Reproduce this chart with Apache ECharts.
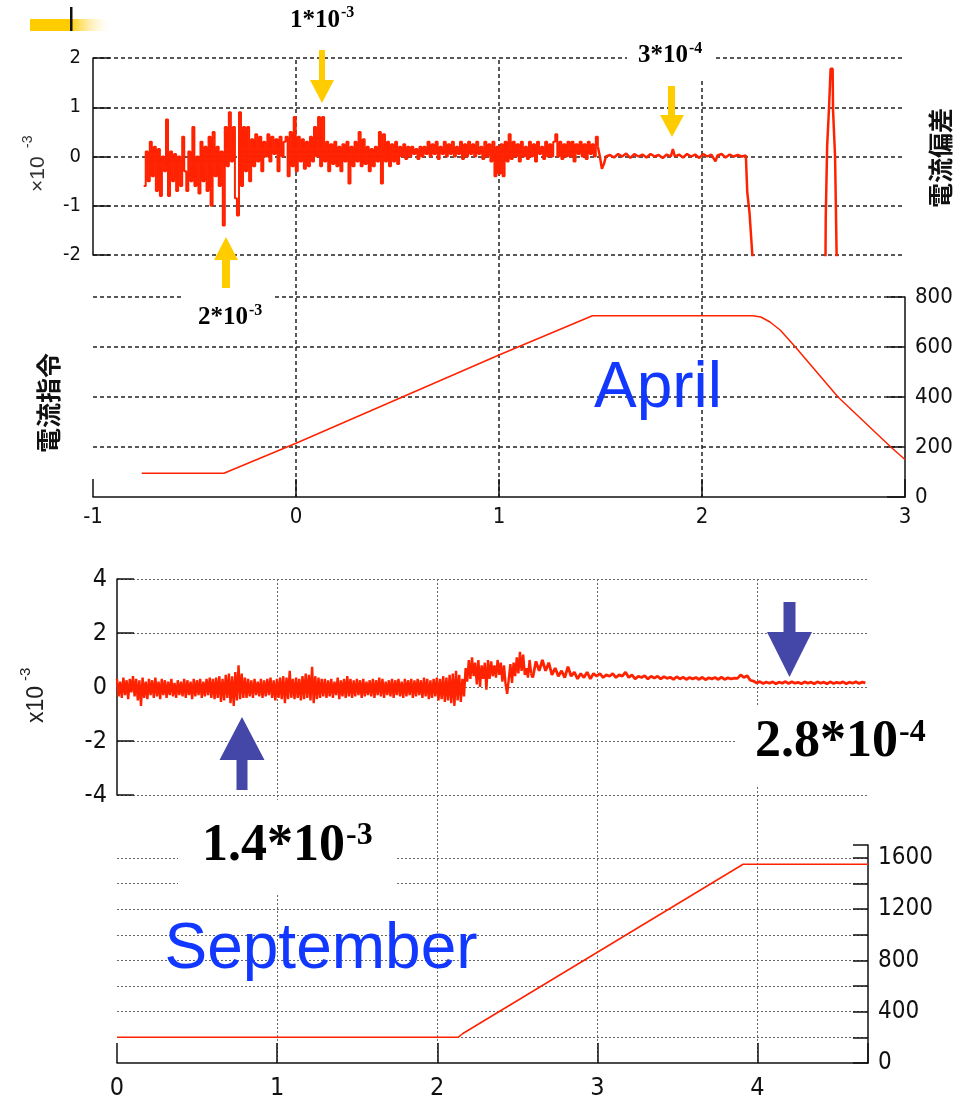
<!DOCTYPE html>
<html><head><meta charset="utf-8">
<script src="https://cdn.jsdelivr.net/npm/echarts@6/dist/echarts.min.js"></script>
<style>html,body{margin:0;padding:0;background:#fff}#c{width:954px;height:1100px}</style>
</head><body><div id="c"></div>
<script>
// ---------------- DATA ----------------
// April: current deviation (x10^-3), sampled every 0.01 from -0.75
const aprDevStart = -0.75, aprDevStep = 0.01;
const aprDevNoisy = [
 -0.6, 0.1, -0.5, 0.3, -0.4, 0.2, -0.7, 0.15, -0.8, 0.0,
 -0.3, 0.75, -0.8, 0.1, -0.5, 0.05, -0.7, 0.0, -0.6, 0.4,
 -0.3, -0.7, 0.1, -0.5, 0.6, -0.6, 0.0, -0.75, 0.3, -0.5,
 0.2, -0.7, 0.4, -1.0, 0.5, -0.4, 0.2, -0.6, 0.1, -1.4,
 0.6, -0.2, 0.9, -0.1, 0.6, -0.85, -1.2, 0.9, -0.6, 0.6,
 -0.3, 0.6, -0.5, 0.35, -0.2, 0.45, -0.1, 0.4, -0.3, 0.3,
 0.0, 0.45, -0.1, 0.4, 0.05, 0.35, -0.3, 0.4, 0.0, 0.3,
 0.4, -0.4, 0.5, -0.2, 0.8, -0.3, 0.4, -0.1, 0.35, -0.25,
 0.3, -0.2, 0.4, -0.1, 0.6, 0.0, 0.8, -0.2, 0.8, -0.1,
 0.3, -0.3, 0.25, -0.15, 0.3, -0.2, 0.2, -0.3, 0.25, -0.1,
 0.3, -0.55, 0.2, -0.2, 0.3, -0.1, 0.5, -0.2, 0.35, -0.15,
 0.2, -0.3, 0.15, -0.2, 0.2, -0.1, 0.5, -0.55, 0.45, -0.1,
 0.3, -0.2, 0.25, -0.1, 0.3, -0.15, 0.2, 0.0, 0.25, -0.05,
 0.2, 0.0, 0.2, 0.05, 0.15, -0.05, 0.2, 0.0, 0.2, 0.05,
 0.3, 0.0, 0.25, 0.05, 0.3, -0.05, 0.2, 0.05, 0.3, 0.0,
 0.25, 0.05, 0.3, 0.0, 0.2, 0.05, 0.3, -0.05, 0.25, 0.0,
 0.3, 0.05, 0.25, 0.0, 0.3, 0.05, 0.2, -0.05, 0.3, 0.0,
 0.25, -0.1, 0.3, -0.4, 0.2, -0.35, 0.25, -0.4, 0.3, -0.1,
 0.45, -0.05, 0.3, 0.0, 0.25, -0.1, 0.3, 0.0, 0.2, -0.05,
 0.3, 0.0, 0.25, -0.1, 0.3, 0.05, 0.2, -0.05, 0.3, 0.0,
 0.25, 0.0, 0.3, 0.45, 0.0, 0.3, -0.05, 0.25, 0.0, 0.3,
 0.0, 0.3, -0.1, 0.25, 0.05, 0.3, 0.0, 0.25, -0.05, 0.3,
 0.05, 0.25, 0.0, 0.4, 0.2
];
// April: quiet part, drop-out and spike (x, value x10^-3); values below -2 leave the plot
const aprDevTail = [
 [1.49, 0.2], [1.50, 0.0], [1.51, -0.25], [1.52, -0.15], [1.53, 0.0], [1.55, 0.03], [1.57, -0.02], [1.59, 0.05],
 [1.61, 0.0], [1.63, 0.06], [1.65, -0.03], [1.67, 0.05], [1.69, 0.0], [1.71, 0.04], [1.73, -0.02],
 [1.75, 0.05], [1.77, 0.0], [1.79, 0.03], [1.81, -0.03], [1.83, 0.04], [1.85, 0.0], [1.86, 0.15],
 [1.87, 0.0], [1.89, 0.04], [1.91, -0.02], [1.93, 0.05], [1.95, 0.0], [1.97, 0.04], [1.99, -0.03],
 [2.01, 0.05], [2.03, 0.0], [2.05, 0.04], [2.07, -0.1], [2.08, 0.02], [2.10, 0.05], [2.12, -0.02],
 [2.14, 0.04], [2.16, 0.0], [2.18, 0.03], [2.20, 0.0], [2.22, 0.02],
 [2.227, -0.73], [2.236, -0.73], [2.238, -1.14], [2.244, -1.14], [2.252, -2.0], [2.258, -2.0],
 [2.26, -2.6], [2.612, -2.6], [2.614, -1.24], [2.619, -1.24], [2.621, 0.22], [2.628, 0.22],
 [2.63, 0.97], [2.636, 0.97], [2.638, 1.78], [2.648, 1.78], [2.65, 0.95], [2.657, 0.95],
 [2.66, 0.0], [2.668, 0.0], [2.67, -2.6], [2.70, -2.6]
];
// April: current command
const aprCmd = [[-0.76, 95], [-0.355, 95], [0, 215], [1, 568], [1.46, 725], [2.25, 725],
 [2.29, 720], [2.335, 700], [2.385, 668], [2.46, 600], [2.67, 400], [2.93, 200], [3.0, 150]];

// September: current deviation (x10^-3), every 0.01 from 0
const sepDevStart = 0, sepDevStep = 0.01;
const sepDevNoisy = [
 0.3, -0.35, 0.2, -0.4, 0.35, -0.3, 0.25, -0.45, 0.3, -0.2,
 0.4, -0.35, 0.3, -0.5, 0.25, -0.7, 0.35, -0.4, 0.2, -0.45,
 0.3, -0.3, 0.25, -0.4, 0.35, -0.35, 0.2, -0.45, 0.3, -0.3,
 0.25, -0.4, 0.2, -0.3, 0.3, -0.35, 0.15, -0.4, 0.25, -0.3,
 0.2, -0.35, 0.3, -0.4, 0.25, -0.3, 0.2, -0.45, 0.3, -0.35,
 0.25, -0.3, 0.3, -0.4, 0.2, -0.35, 0.3, -0.3, 0.35, -0.4,
 0.3, -0.45, 0.35, -0.4, 0.4, -0.55, 0.3, -0.5, 0.45, -0.4,
 0.5, -0.6, 0.4, -0.7, 0.55, -0.5, 0.8, -0.45, 0.5, -0.4,
 0.35, -0.4, 0.3, -0.35, 0.25, -0.4, 0.3, -0.3, 0.2, -0.35,
 0.3, -0.4, 0.25, -0.35, 0.3, -0.3, 0.35, -0.4, 0.25, -0.5,
 0.3, -0.4, 0.35, -0.45, 0.4, -0.6, 0.35, -0.45, 0.6, -0.4,
 0.3, -0.45, 0.35, -0.4, 0.3, -0.5, 0.4, -0.45, 0.5, -0.4,
 0.45, -0.5, 0.75, -0.6, 0.4, -0.45, 0.35, -0.4, 0.3, -0.35,
 0.3, -0.4, 0.25, -0.35, 0.3, -0.4, 0.2, -0.3, 0.35, -0.45,
 0.25, -0.35, 0.3, -0.4, 0.4, -0.35, 0.3, -0.4, 0.25, -0.35,
 0.3, -0.3, 0.25, -0.4, 0.3, -0.35, 0.2, -0.3, 0.25, -0.35,
 0.3, -0.4, 0.25, -0.3, 0.35, -0.35, 0.3, -0.4, 0.2, -0.3,
 0.25, -0.35, 0.3, -0.4, 0.25, -0.3, 0.3, -0.35, 0.2, -0.4,
 0.3, -0.35, 0.25, -0.3, 0.3, -0.4, 0.25, -0.35, 0.3, -0.3,
 0.25, -0.4, 0.35, -0.35, 0.3, -0.45, 0.25, -0.4, 0.3, -0.35,
 0.35, -0.5, 0.3, -0.45, 0.4, -0.55, 0.35, -0.5, 0.45, -0.6,
 0.5, -0.7, 0.6, -0.5, 0.45, -0.55, 0.3, -0.35, 0.7, 0.2,
 1.0, 0.3, 1.1, 0.4, 0.9, 0.1, 1.0, 0.0, 0.8, 0.3,
 0.9, -0.1, 1.0, 0.3, 0.95, 0.4, 0.8, 0.35, 1.0, 0.45,
 0.9, 0.2, 0.8, 0.1, -0.25, 0.3, 0.85, 0.15, 0.9, 0.4,
 1.1, 0.5, 1.3, 0.6, 1.2, 0.45, 0.7, 0.35, 1.0, 0.5
];
// September: settling part, every 0.02 from 2.6
const sepDevStart2 = 2.6, sepDevStep2 = 0.02;
const sepDevSettled = [
 0.35, 0.95, 0.6, 1.0, 0.6, 0.9, 0.45, 0.7, 0.4, 0.6,
 0.35, 0.75, 0.4, 0.55, 0.3, 0.5, 0.35, 0.55, 0.3, 0.5,
 0.4, 0.5, 0.35, 0.45, 0.4, 0.5, 0.35, 0.45, 0.4, 0.55,
 0.35, 0.45, 0.3, 0.4, 0.35, 0.42, 0.3, 0.4, 0.33, 0.4,
 0.3, 0.38, 0.32, 0.36, 0.28, 0.38, 0.3, 0.36, 0.28, 0.35,
 0.3, 0.35, 0.28, 0.36, 0.27, 0.34, 0.3, 0.35, 0.28, 0.36,
 0.28, 0.34, 0.3, 0.33, 0.32, 0.45, 0.35, 0.42, 0.25, 0.22,
 0.15, 0.2, 0.13, 0.18, 0.14, 0.19, 0.12, 0.18, 0.14, 0.2,
 0.13, 0.19, 0.14, 0.17, 0.12, 0.19, 0.14, 0.18, 0.12, 0.19,
 0.14, 0.18, 0.12, 0.19, 0.13, 0.17, 0.14, 0.19, 0.12, 0.18,
 0.14, 0.19, 0.13, 0.18, 0.15
];
// September: current command
const sepCmd = [[0, 200], [2.13, 200], [2.16, 230], [3.91, 1550], [4.69, 1550]];

// axis ranges / ticks
const aprXRange = [-1, 3], aprXTick = 1;
const aprDevYRange = [-2, 2], aprDevYTick = 1;
const aprCmdYRange = [0, 800], aprCmdYTick = 200;
const sepXRange = [0, 4.69], sepXTick = 1;
const sepDevYRange = [-4, 4], sepDevYTick = 2;
const sepCmdYRange = [0, 1700], sepCmdYTick = 200, sepCmdLabelStep = 400, sepCmdLabelMax = 1600;

// ---------------- BUILD ----------------
const r3 = v => Math.round(v * 1000) / 1000;
const aprDevA = aprDevNoisy.map((v, i) => [r3(aprDevStart + i * aprDevStep), v]);
const sepDevA = sepDevNoisy.map((v, i) => [r3(sepDevStart + i * sepDevStep), v]);
const sepDevB = [sepDevA[sepDevA.length - 1]].concat(sepDevSettled.map((v, i) => [r3(sepDevStart2 + i * sepDevStep2), v]));

const NARROW = "'Liberation Sans Narrow','DejaVu Sans Condensed','Liberation Sans',sans-serif";
const INK = '#111';
const RED = '#ff2200';
const blackDot = { color: '#222', type: [4, 3], width: 1.5 };
const grayDot = { color: '#666', type: [2, 2], width: 1 };
const axLine = { show: true, onZero: false, lineStyle: { color: INK, width: 1.5 } };
const tick = len => ({ show: true, inside: true, length: len, lineStyle: { color: INK, width: 1.5 } });
const lab = (size, margin, fmt) => ({ show: true, color: INK, fontSize: size, fontFamily: NARROW, margin: margin, formatter: fmt });
const hidden = (gi, range) => ({ gridIndex: gi, type: 'value', min: range[0], max: range[1], show: false,
  axisLine: { show: false }, axisTick: { show: false }, axisLabel: { show: false }, splitLine: { show: false } });

const grids = [
  { left: 93, top: 58, width: 811, height: 197 },
  { left: 93, top: 297, width: 812, height: 200 },
  { left: 93, top: 60, width: 812, height: 437 },
  { left: 117, top: 579, width: 750, height: 216 },
  { left: 117, top: 845, width: 751, height: 218 },
  { left: 117, top: 579, width: 751, height: 484 }
].map(g => Object.assign(g, { containLabel: false, outerBoundsMode: 'none' }));

const xAxis = [
  hidden(0, aprXRange),
  { gridIndex: 1, type: 'value', min: aprXRange[0], max: aprXRange[1], interval: aprXTick, position: 'bottom',
    axisLine: axLine, axisTick: tick(18), axisLabel: lab(22, 9), splitLine: { show: false } },
  { gridIndex: 2, type: 'value', min: aprXRange[0], max: aprXRange[1], interval: aprXTick,
    axisLine: { show: false }, axisTick: { show: false }, axisLabel: { show: false },
    splitLine: { show: true, showMinLine: false, showMaxLine: false, lineStyle: blackDot } },
  hidden(3, sepXRange),
  { gridIndex: 4, type: 'value', min: sepXRange[0], max: sepXRange[1], interval: sepXTick, position: 'bottom',
    axisLine: axLine, axisTick: tick(20), axisLabel: lab(25, 13, v => Number.isInteger(v) ? String(v) : ''),
    splitLine: { show: false } },
  { gridIndex: 5, type: 'value', min: sepXRange[0], max: sepXRange[1], interval: sepXTick,
    axisLine: { show: false }, axisTick: { show: false }, axisLabel: { show: false },
    splitLine: { show: true, showMinLine: false, showMaxLine: false, lineStyle: grayDot } }
];
const yAxis = [
  { gridIndex: 0, type: 'value', min: aprDevYRange[0], max: aprDevYRange[1], interval: aprDevYTick, position: 'left',
    axisLine: axLine, axisTick: tick(17), axisLabel: lab(20, 12), splitLine: { show: true, lineStyle: blackDot } },
  { gridIndex: 1, type: 'value', min: aprCmdYRange[0], max: aprCmdYRange[1], interval: aprCmdYTick, position: 'right',
    axisLine: axLine, axisTick: tick(18), axisLabel: lab(22, 10),
    splitLine: { show: true, showMinLine: false, lineStyle: blackDot } },
  hidden(2, [0, 1]),
  { gridIndex: 3, type: 'value', min: sepDevYRange[0], max: sepDevYRange[1], interval: sepDevYTick, position: 'left',
    axisLine: axLine, axisTick: tick(17), axisLabel: lab(25, 10), splitLine: { show: true, lineStyle: grayDot } },
  { gridIndex: 4, type: 'value', min: sepCmdYRange[0], max: sepCmdYRange[1], interval: sepCmdYTick, position: 'right',
    axisLine: axLine, axisTick: tick(15),
    axisLabel: lab(24, 10, v => (v % sepCmdLabelStep === 0 && v <= sepCmdLabelMax) ? String(v) : ''),
    splitLine: { show: true, showMinLine: false, showMaxLine: false, lineStyle: grayDot } },
  hidden(5, [0, 1])
];

const line = (xi, data, w, step) => ({ type: 'line', xAxisIndex: xi, yAxisIndex: xi, data: data, showSymbol: false,
  symbol: 'none', clip: true, step: step || false, lineStyle: { color: RED, width: w },
  emphasis: { disabled: true }, z: 3 });

// ---------------- ANNOTATIONS ----------------
const Z = 100;
const T = (x, y, text, font, fill, align, rot) => ({ type: 'text', x: x, y: y, rotation: rot || 0, z: Z + 2,
  style: { text: text, font: font, fill: fill || '#000', align: align || 'center', verticalAlign: 'middle',
           textAlign: align || 'center', textVerticalAlign: 'middle' } });
const box = (x, y, w, h) => ({ type: 'rect', z: Z, shape: { x: x, y: y, width: w, height: h }, style: { fill: '#fff' } });
const poly = (pts, fill) => ({ type: 'polygon', z: Z + 1, shape: { points: pts }, style: { fill: fill } });
const SERIF = "'Liberation Serif','DejaVu Serif',serif";
const GOLD = '#ffcc00', BLUE_ARROW = '#4447a8', BLUE_TXT = '#1238ff';
const SANS = "'Liberation Sans',Arial,sans-serif";
const CJK = "'Noto Sans CJK JP','Noto Sans CJK SC',sans-serif";

const graphics = [
  // corner decoration
  { type: 'rect', z: Z, shape: { x: 30, y: 19, width: 80, height: 12 },
    style: { fill: { type: 'linear', x: 0, y: 0, x2: 1, y2: 0,
      colorStops: [{ offset: 0, color: GOLD }, { offset: 0.5, color: GOLD }, { offset: 1, color: 'rgba(255,240,200,0)' }] } } },
  { type: 'rect', z: Z + 1, shape: { x: 70, y: 7, width: 2.5, height: 24 }, style: { fill: '#111' } },
  // white label boxes
  box(627, 35, 89, 44), box(183, 291, 89, 45), box(178, 800, 217, 93), box(735, 705, 210, 82),
  // yellow arrows
  poly([[319, 50], [325, 50], [325, 80], [334, 80], [322, 103], [310, 80], [319, 80]], GOLD),
  poly([[668, 86], [675, 86], [675, 115], [684, 115], [672, 137], [660, 115], [668, 115]], GOLD),
  poly([[226, 237], [238, 260], [230, 260], [230, 288], [222, 288], [222, 260], [214, 260]], GOLD),
  // blue arrows
  poly([[242, 717], [264.5, 760], [247.5, 760], [247.5, 790], [236.5, 790], [236.5, 760], [219.5, 760]], BLUE_ARROW),
  poly([[783.5, 602], [795.5, 602], [795.5, 632], [812, 632], [789.5, 677], [767, 632], [783.5, 632]], BLUE_ARROW),
  // magnitude labels
  T(340, 21, '1*10', "bold 25px " + SERIF, '#000', 'right'), T(341, 13, '-3', "bold 16px " + SERIF, '#000', 'left'),
  T(688, 56, '3*10', "bold 25px " + SERIF, '#000', 'right'), T(689, 49, '-4', "bold 16px " + SERIF, '#000', 'left'),
  T(248, 318, '2*10', "bold 25px " + SERIF, '#000', 'right'), T(249, 311, '-3', "bold 16px " + SERIF, '#000', 'left'),
  T(345, 847, '1.4*10', "bold 52px " + SERIF, '#000', 'right'), T(346, 836, '-3', "bold 32px " + SERIF, '#000', 'left'),
  T(898, 743, '2.8*10', "bold 52px " + SERIF, '#000', 'right'), T(899, 733, '-4', "bold 32px " + SERIF, '#000', 'left'),
  // month labels
  T(658, 389, 'April', "64px " + SANS, BLUE_TXT, 'center'),
  T(321, 950, 'September', "64px " + SANS, BLUE_TXT, 'center'),
  // axis titles
  T(38, 192, '×10', "21px " + SANS, '#333', 'left', Math.PI / 2),
  T(28, 148, '-3', "14px " + SANS, '#333', 'left', Math.PI / 2),
  T(37, 723, 'x10', "23px " + SANS, '#222', 'left', Math.PI / 2),
  T(26, 681, '-3', "15px " + SANS, '#222', 'left', Math.PI / 2),
  T(940, 158, '電流偏差', "bold 25px " + CJK, '#111', 'center', Math.PI / 2),
  T(48, 403, '電流指令', "bold 25px " + CJK, '#111', 'center', Math.PI / 2)
];

const chart = echarts.init(document.getElementById('c'), null, { renderer: 'canvas' });
chart.setOption({
  animation: false,
  backgroundColor: '#fff',
  grid: grids,
  xAxis: xAxis,
  yAxis: yAxis,
  series: [
    line(0, aprDevA, 2, 'end'), line(0, aprDevTail, 2.5),
    line(1, aprCmd, 1.5),
    line(3, sepDevA, 2.4, 'end'), line(3, sepDevB, 2.8),
    line(4, sepCmd, 1.5)
  ],
  graphic: graphics
});
</script></body></html>
